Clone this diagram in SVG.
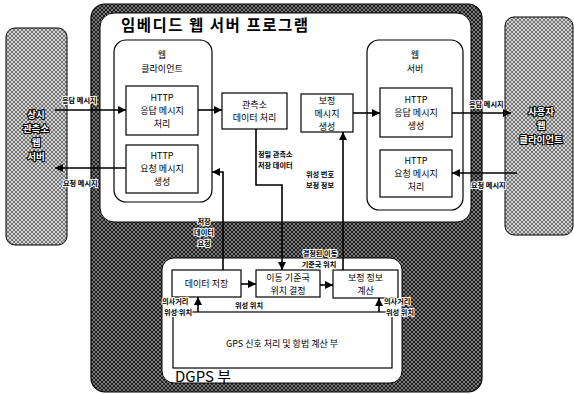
<svg xmlns="http://www.w3.org/2000/svg" width="574" height="394" viewBox="0 0 574 394">
<defs>
<pattern id="hatchDark" width="4" height="4" patternUnits="userSpaceOnUse">
<rect width="4" height="4" fill="#7a7a7a"/>
<path d="M0,0 L4,4 M4,0 L0,4" stroke="#1e1e1e" stroke-width="1"/>
</pattern>
<pattern id="hatchLight" width="4" height="4" patternUnits="userSpaceOnUse">
<rect width="4" height="4" fill="#d4d4d4"/>
<path d="M0,0 L4,4 M4,0 L0,4" stroke="#5a5a5a" stroke-width="0.8"/>
</pattern>
<marker id="arr" viewBox="0 0 10 10" refX="10" refY="5" markerWidth="8" markerHeight="8" markerUnits="userSpaceOnUse" orient="auto">
<path d="M0,0 L10,5 L0,10 z" fill="#000"/>
</marker>
</defs>
<style>
text{font-family:"Noto Sans CJK KR","Noto Sans",sans-serif;fill:#000;}
.box{fill:#fff;stroke:#000;stroke-width:1.2;}
.t{font-size:9px;text-anchor:middle;}
.lbl{font-size:7.2px;font-weight:bold;paint-order:stroke;stroke:#fff;stroke-width:2px;stroke-linejoin:round;}
.side{font-size:9.5px;font-weight:bold;text-anchor:middle;fill:#fff;stroke:#000;stroke-width:2.2px;paint-order:stroke;stroke-linejoin:round;}
.ln{fill:none;stroke:#000;stroke-width:1.6;}
</style>

<g id="program">
<rect x="91" y="4" width="391" height="388" rx="14" fill="url(#hatchDark)" stroke="#000" stroke-width="1.2"/>
<rect x="100" y="13" width="371" height="209" rx="14" fill="#fff" stroke="#000" stroke-width="1"/>
<text x="121" y="31" style="font-size:15.5px;font-weight:bold;letter-spacing:1.5px;">임베디드 웹 서버 프로그램</text>
</g>

<g id="dgps">
<rect x="162" y="258" width="240" height="125" rx="12" fill="#fff" stroke="#000" stroke-width="1"/>
<text x="175" y="382" style="font-size:15px;">DGPS 부</text>
</g>

<g id="station-server">
<rect x="6" y="28" width="61" height="217" rx="9" fill="url(#hatchLight)" stroke="#000" stroke-width="1"/>
<text class="side" x="36" y="118">상시</text>
<text class="side" x="36" y="132">관측소</text>
<text class="side" x="36" y="146">웹</text>
<text class="side" x="36" y="160">서버</text>
</g>

<g id="user-client">
<rect x="505" y="17" width="68" height="218" rx="9" fill="url(#hatchLight)" stroke="#000" stroke-width="1"/>
<text class="side" x="541" y="115">사용자</text>
<text class="side" x="541" y="129">웹</text>
<text class="side" x="541" y="143">클라이언트</text>
</g>

<g id="web-client">
<rect x="114" y="40" width="98" height="162" rx="12" fill="#fff" stroke="#000" stroke-width="1.2"/>
<text class="t" x="162" y="58">웹</text>
<text class="t" x="162" y="72">클라이언트</text>
</g>

<g id="http-resp-proc">
<rect class="box" x="126" y="86" width="72" height="49"/>
<text class="t" x="162" y="101">HTTP</text>
<text class="t" x="162" y="114">응답 메시지</text>
<text class="t" x="162" y="127">처리</text>
</g>

<g id="http-req-gen">
<rect class="box" x="126" y="145" width="72" height="48"/>
<text class="t" x="162" y="159">HTTP</text>
<text class="t" x="162" y="172">요청 메시지</text>
<text class="t" x="162" y="185">생성</text>
</g>

<g id="station-data-proc">
<rect class="box" x="222" y="93" width="65" height="36"/>
<text class="t" x="254.5" y="108">관측소</text>
<text class="t" x="254.5" y="121">데이터 처리</text>
</g>

<g id="corr-msg-gen">
<rect class="box" x="301" y="94" width="52" height="38"/>
<text class="t" x="327" y="104">보정</text>
<text class="t" x="327" y="117">메시지</text>
<text class="t" x="327" y="130">생성</text>
</g>

<g id="web-server">
<rect x="367" y="40" width="96" height="170" rx="12" fill="#fff" stroke="#000" stroke-width="1.2"/>
<text class="t" x="415" y="58">웹</text>
<text class="t" x="415" y="72">서버</text>
</g>

<g id="http-resp-gen">
<rect class="box" x="380" y="88" width="72" height="49"/>
<text class="t" x="416" y="103">HTTP</text>
<text class="t" x="416" y="116">응답 메시지</text>
<text class="t" x="416" y="129">생성</text>
</g>

<g id="http-req-proc">
<rect class="box" x="380" y="150" width="72" height="47"/>
<text class="t" x="416" y="164">HTTP</text>
<text class="t" x="416" y="177">요청 메시지</text>
<text class="t" x="416" y="190">처리</text>
</g>

<g id="data-store">
<rect class="box" x="172" y="270" width="69" height="27"/>
<text class="t" x="206.5" y="287">데이터 저장</text>
</g>

<g id="mobile-ref-pos">
<rect class="box" x="256" y="270" width="64" height="27"/>
<text class="t" x="288" y="281">이동 기준국</text>
<text class="t" x="288" y="294">위치 결정</text>
</g>

<g id="corr-info-calc">
<rect class="box" x="333" y="270" width="65" height="28"/>
<text class="t" x="365.5" y="281">보정 정보</text>
<text class="t" x="365.5" y="294">계산</text>
</g>

<g id="gps-proc">
<rect class="box" x="173" y="312" width="219" height="56"/>
<text class="t" x="282" y="347">GPS 신호 처리 및 항법 계산 부</text>
</g>

<g id="connectors">
<line class="ln" x1="55" y1="110" x2="126" y2="110" marker-end="url(#arr)"/>
<line class="ln" x1="126" y1="168" x2="55" y2="168" marker-end="url(#arr)"/>
<line class="ln" x1="198" y1="110" x2="222" y2="110" marker-end="url(#arr)"/>
<line class="ln" x1="353" y1="113" x2="380" y2="113" marker-end="url(#arr)"/>
<line class="ln" x1="452" y1="113" x2="511" y2="113" marker-end="url(#arr)"/>
<line class="ln" x1="517" y1="173" x2="452" y2="173" marker-end="url(#arr)"/>
<polyline class="ln" points="256,129 256,185 282,185 282,270" marker-end="url(#arr)"/>
<polyline class="ln" points="223,270 223,172 212,172" marker-end="url(#arr)"/>
<line class="ln" x1="343" y1="270" x2="343" y2="132" marker-end="url(#arr)"/>
<line class="ln" x1="241" y1="284" x2="256" y2="284" marker-end="url(#arr)"/>
<line class="ln" x1="320" y1="285" x2="333" y2="285" marker-end="url(#arr)"/>
<line class="ln" x1="198" y1="312" x2="198" y2="297" marker-end="url(#arr)"/>
<line class="ln" x1="379" y1="312" x2="379" y2="298" marker-end="url(#arr)"/>
<text class="lbl" x="62" y="103">응답 메시지</text>
<text class="lbl" x="63" y="186">요청 메시지</text>
<text class="lbl" x="469" y="107">응답 메시지</text>
<text class="lbl" x="471" y="188">요청 메시지</text>
<text class="lbl" x="258" y="157">정밀 관측소</text>
<text class="lbl" x="258" y="168">저장 데이터</text>
<text class="lbl" x="306" y="177">위성 번호</text>
<text class="lbl" x="306" y="188">보정 정보</text>
<text class="lbl" x="204" y="224" text-anchor="middle">저장</text>
<text class="lbl" x="204" y="235" text-anchor="middle">데이터</text>
<text class="lbl" x="204" y="246" text-anchor="middle">요청</text>
<text class="lbl" x="320" y="256" text-anchor="middle">결정된 이동</text>
<text class="lbl" x="319" y="267" text-anchor="middle">기준국 위치</text>
<text class="lbl" x="162" y="304">의사거리</text>
<text class="lbl" x="164" y="315">위성 위치</text>
<text class="lbl" x="235" y="308">위성 위치</text>
<text class="lbl" x="384" y="304">의사거리</text>
<text class="lbl" x="386" y="315">위성 위치</text>
</g>
</svg>
